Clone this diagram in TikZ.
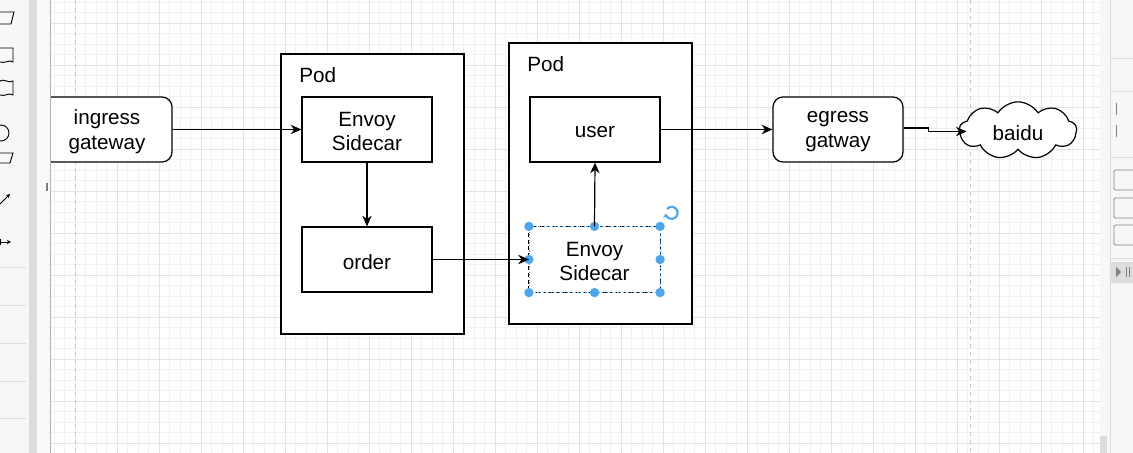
\documentclass[tikz,border=0pt]{standalone}
\usepackage{fontspec}
\setmainfont{Liberation Sans}
\usetikzlibrary{shapes.symbols,arrows.meta,calc}
\definecolor{gridminor}{HTML}{F1F1F1}
\definecolor{gridmajor}{HTML}{E3E3E3}
\definecolor{pageline}{HTML}{C8C8C8}
\definecolor{selblue}{HTML}{4DA6EA}
\definecolor{panelbg}{HTML}{F7F7F7}
\definecolor{panelgray}{HTML}{DDDDDD}
\tikzset{
  lbl/.style={font=\fontsize{15.5pt}{18.5pt}\selectfont, align=center},
  txt/.style={label={[lbl, yshift=-1.6pt]center:#1}},
  boxnode/.style={draw=black, line width=0.9pt, fill=white, minimum width=97.5pt, minimum height=48.75pt, inner sep=0pt},
  gwnode/.style={boxnode, rounded corners=7.5pt},
  podbox/.style={draw=black, line width=0.9pt, fill=white, inner sep=0pt},
  arr/.style={draw=black, line width=0.9pt, -{Stealth[length=8pt,width=7pt,inset=2.5pt]}},
  handle/.style={circle, fill=selblue, inner sep=0pt, minimum size=7pt},
}
\begin{document}
\begin{tikzpicture}[x=0.75pt,y=-0.75pt]
\useasboundingbox (0,0) rectangle (1133,453);
% canvas
\fill[white] (0,0) rectangle (1133,453);
\foreach \i in {0,...,102} {
  \draw[gridminor, line width=0.5pt] ({54+\i*10.5},0) -- ++(0,453);
}
\foreach \i in {0,...,44} {
  \draw[gridminor, line width=0.5pt] (50,{2+\i*10.5}) -- ++(1060,0);
}
\foreach \i in {0,...,25} {
  \draw[gridmajor, line width=0.5pt] ({54+\i*42+63},0) -- ++(0,453);
}
\foreach \i in {0,...,11} {
  \draw[gridmajor, line width=0.5pt] (50,{2+\i*42+21}) -- ++(1060,0);
}
\draw[pageline, dashed, line width=0.6pt] (75,0) -- (75,453);
\draw[pageline, dashed, line width=0.6pt] (970,0) -- (970,453);

% pods
\node[podbox, minimum width=137.25pt, minimum height=210pt] (pod1) at (372.5,194) {};
\node[lbl, anchor=west, inner sep=0pt] (pod1lbl) at (299,75) {Pod};
\node[podbox, minimum width=137.25pt, minimum height=210.75pt] (pod2) at (600.5,183.5) {};
\node[lbl, anchor=west, inner sep=0pt] (pod2lbl) at (527,64) {Pod};

% nodes
\node[gwnode, txt={ingress\\gateway}] (ingress) at (107,129.5) {};
\node[boxnode, txt={Envoy\\Sidecar}] (envoy1) at (367,129.5) {};
\node[boxnode, txt={order}] (order) at (367,259.5) {};
\node[boxnode, txt={user}] (user) at (595,129.5) {};
\node[boxnode, draw=none, txt={Envoy\\Sidecar}] (envoy2) at (594.5,259.5) {};
\node[gwnode, txt={egress\\gatway}] (egress) at (838,129.5) {};
\node[cloud, cloud puffs=9, cloud puff arc=115, cloud ignores aspect, draw=black, line width=0.9pt, fill=white, minimum width=88pt, minimum height=43pt, inner sep=0pt, txt={baidu}] (baidu) at (1018,130.5) {};

% selection of envoy2
\draw[black, line width=0.7pt, dash pattern=on 3pt off 2pt] (envoy2.north west) rectangle (envoy2.south east);
\draw[selblue, line width=0.4pt, dash pattern=on 1pt off 1pt] (envoy2.north west) rectangle (envoy2.south east);
\foreach \a in {north west,north,north east,east,south east,south,south west,west} {
  \node[handle] at (envoy2.\a) {};
}
\coordinate (rot) at (672,213);
\draw[selblue, line width=1.6pt, -{Stealth[length=3.5pt,width=4.5pt]}] ($(rot)+(-5,-4)$) arc[start angle=140, end angle=-175, radius=4.5pt];

% connectors
\draw[arr] (ingress.east) -- (envoy1.west);
\draw[arr] (envoy1.south) -- (order.north);
\draw[arr] (order.east) -- (envoy2.west);
\draw[arr] (envoy2.north) -- (user.south);
\draw[arr] (user.east) -- (egress.east -| egress.west);
\draw[arr] ($(egress.east)+(0,-1.5)$) -- ++(25,0) coordinate (j1) -- ++(0,3.5) coordinate (j2) -- ($(j2 -| baidu.west)+(8,0)$);

% left UI panel
\fill[panelbg] (0,0) rectangle (29,453);
\fill[panelgray] (29,0) rectangle (37,453);
\fill[panelbg!80!white] (37,0) rectangle (50,453);
\draw[panelgray!80!black, line width=0.4pt] (50,0) -- (50,453);
\draw[gray, line width=0.5pt] (46,183) -- (46,191) (47.6,183) -- (47.6,191);
\foreach \yy in {267,305,343,381,418} { \draw[panelgray, line width=0.5pt] (0,\yy) -- (26,\yy); }
\begin{scope}[black, line width=0.7pt]
  \draw (0,12) -- (14,12) -- (11,24) -- (0,24);
  \draw (0,48) -- (13,48) -- (13,62) .. controls (9,59) and (5,64) .. (0,62);
  \draw (0,81) .. controls (4,78) and (9,84) .. (13,81) -- (13,95) .. controls (9,92) and (5,97) .. (0,95);
  \draw (1,133) circle[radius=8];
  \draw (0,153) -- (13,153) -- (10,163) -- (0,163);
  \draw[-{Stealth[length=3pt,width=3pt]}] (0,204) -- (10,194);
  \draw[{Bar[width=4pt]}-{Stealth[length=3pt,width=3pt]}] (0,242) -- (11,242);
\end{scope}
% right UI panel
\fill[panelbg] (1100,0) rectangle (1110,453);
\fill[panelgray] (1100,436) rectangle (1107,453);
\fill[panelbg] (1110,0) rectangle (1133,453);
\draw[panelgray, line width=0.5pt] (1110,0) -- (1110,453);
\foreach \yy in {58,91,157,258} { \draw[panelgray, line width=0.5pt] (1111,\yy) -- (1133,\yy); }
\fill[panelgray] (1111,262) rectangle (1133,283);
\fill[gray] (1116,267) -- (1121,272) -- (1116,277) -- cycle;
\draw[gray, line width=0.5pt] (1126,267) -- (1126,277) (1129,267) -- (1129,277);
\foreach \yy in {170,198,225} { \draw[gray, line width=0.5pt, rounded corners=1pt] (1133,\yy) -- (1114,\yy) -- (1114,{\yy+20}) -- (1133,{\yy+20}); }
\draw[gray, line width=0.5pt] (1116,103) -- (1116,115) (1116,125) -- (1116,137);
\end{tikzpicture}
\end{document}
